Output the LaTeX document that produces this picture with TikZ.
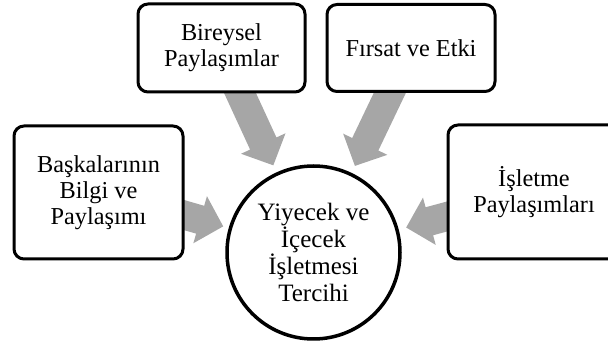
\documentclass[tikz,border=0pt]{standalone}
\usepackage{fontspec}
\setmainfont{Liberation Serif}
\usetikzlibrary{calc}
\definecolor{arrowgray}{RGB}{166,166,166}
\tikzset{
  box/.style={draw=black, line width=3pt, rounded corners=10pt, fill=white, align=center,
    font=\fontsize{24.3}{26}\selectfont},
  hub/.style={draw=black, line width=3.5pt, circle, fill=white, align=center, inner sep=0pt,
    minimum size=173pt, font=\fontsize{25}{26.7}\selectfont},
  arrowfill/.style={fill=arrowgray}
}
\newcommand{\bigarrow}[2]{% #1 tail, #2 tip
  \coordinate (hb) at ($(#2)!24pt!(#1)$);
  \fill[arrowfill] ($(#1)!14.5pt!90:(#2)$) -- ($(hb)!14.5pt!90:(#2)$) -- ($(hb)!24.5pt!90:(#2)$) -- (#2)
    -- ($(hb)!24.5pt!-90:(#2)$) -- ($(hb)!14.5pt!-90:(#2)$) -- ($(#1)!14.5pt!-90:(#2)$) -- cycle;}
\begin{document}
\begin{tikzpicture}[x=1pt,y=-1pt]
\useasboundingbox (0,0) rectangle (608,344);
\clip (0,0) rectangle (608,344);
\coordinate (C) at (313.5,252.5);
% tails
\coordinate (tA) at (170,211);
\coordinate (tB) at (234,80);
\coordinate (tC) at (396,80);
\coordinate (tD) at (460,213);
% tips
\coordinate (pA) at ($(C)!94pt!(tA)$);
\coordinate (pB) at ($(C)!96pt!(tB)$);
\coordinate (pC) at ($(C)!96pt!(tC)$);
\coordinate (pD) at ($(C)!96pt!(tD)$);
\bigarrow{tA}{pA}
\bigarrow{tB}{pB}
\bigarrow{tC}{pC}
\bigarrow{tD}{pD}
% boxes
\node[box, minimum width=169pt, minimum height=133pt] (A) at (98.5,192.5) {Başkalarının\\Bilgi ve\\Paylaşımı};
\node[box, minimum width=167pt, minimum height=88pt] (B) at (221.5,48) {Bireysel\\Paylaşımlar};
\node[box, minimum width=168pt, minimum height=87pt] (Cb) at (411,48) {Fırsat ve Etki};
\node[box, minimum width=172pt, minimum height=134pt] (D) at (534,192) {İşletme\\Paylaşımları};
\node[hub] (hub) at (C) {Yiyecek ve\\İçecek\\İşletmesi\\Tercihi};
\end{tikzpicture}
\end{document}
